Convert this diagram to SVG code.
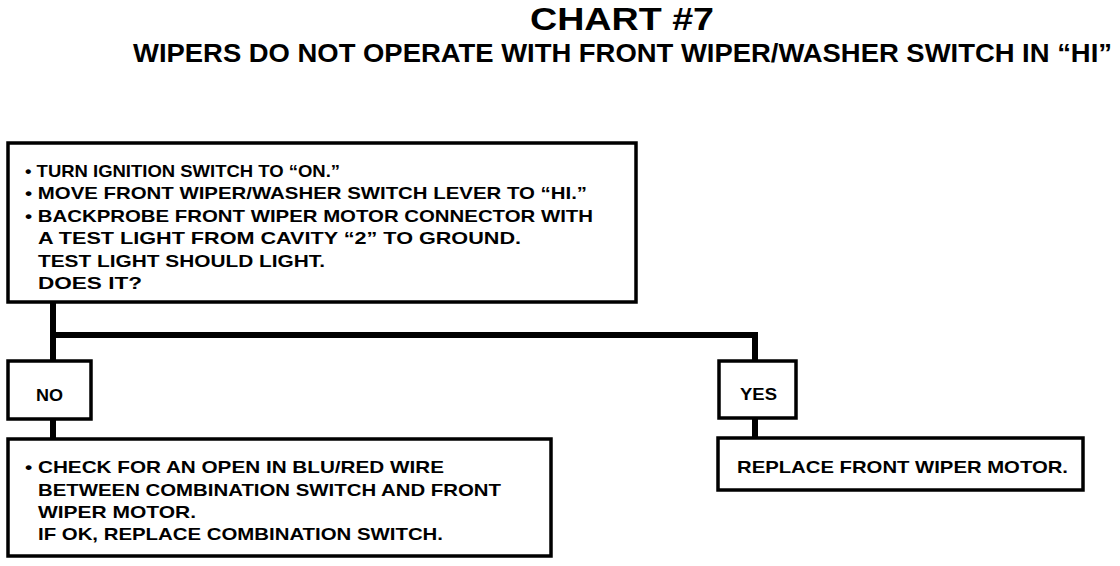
<svg xmlns="http://www.w3.org/2000/svg" width="1120" height="566" viewBox="0 0 1120 566">
<style>
.box{fill:#fff;stroke:#000;stroke-width:3.5}
.t{font-family:"Liberation Sans",Arial,sans-serif;font-weight:bold;font-size:17px;fill:#000}
.h{font-family:"Liberation Sans",Arial,sans-serif;font-weight:bold;fill:#000}
.c{fill:none;stroke:#000;stroke-width:6;stroke-linejoin:miter;stroke-linecap:butt}
</style>
<rect width="1120" height="566" fill="#fff"/>
<g id="title">
<text class="h" x="530" y="30" font-size="32" textLength="184" lengthAdjust="spacingAndGlyphs">CHART #7</text>
<text class="h" x="133" y="62" font-size="26" textLength="979" lengthAdjust="spacingAndGlyphs">WIPERS DO NOT OPERATE WITH FRONT WIPER/WASHER SWITCH IN “HI”</text>
</g>
<g id="connectors">
<path class="c" d="M53 302 V362"/>
<path class="c" d="M53 335 H755 V362"/>
<path class="c" d="M53 418 V440"/>
<path class="c" d="M755 418 V439"/>
</g>
<g id="start">
<rect class="box" x="8" y="143" width="628" height="159"/>
<text class="t" x="25" y="177" textLength="315" lengthAdjust="spacingAndGlyphs">• TURN IGNITION SWITCH TO “ON.”</text>
<text class="t" x="25" y="199" textLength="562" lengthAdjust="spacingAndGlyphs">• MOVE FRONT WIPER/WASHER SWITCH LEVER TO “HI.”</text>
<text class="t" x="25" y="222" textLength="568" lengthAdjust="spacingAndGlyphs">• BACKPROBE FRONT WIPER MOTOR CONNECTOR WITH</text>
<text class="t" x="38" y="244" textLength="483" lengthAdjust="spacingAndGlyphs">A TEST LIGHT FROM CAVITY “2” TO GROUND.</text>
<text class="t" x="38" y="267" textLength="287" lengthAdjust="spacingAndGlyphs">TEST LIGHT SHOULD LIGHT.</text>
<text class="t" x="38" y="289" textLength="104" lengthAdjust="spacingAndGlyphs">DOES IT?</text>
</g>
<g id="no">
<rect class="box" x="8" y="361" width="83" height="58"/>
<text class="t" x="36" y="401" textLength="27" lengthAdjust="spacingAndGlyphs">NO</text>
</g>
<g id="yes">
<rect class="box" x="719" y="361" width="77" height="57"/>
<text class="t" x="740" y="400" textLength="37" lengthAdjust="spacingAndGlyphs">YES</text>
</g>
<g id="check">
<rect class="box" x="8" y="439" width="543" height="117"/>
<text class="t" x="25" y="473" textLength="419" lengthAdjust="spacingAndGlyphs">• CHECK FOR AN OPEN IN BLU/RED WIRE</text>
<text class="t" x="38" y="496" textLength="463" lengthAdjust="spacingAndGlyphs">BETWEEN COMBINATION SWITCH AND FRONT</text>
<text class="t" x="38" y="518" textLength="158" lengthAdjust="spacingAndGlyphs">WIPER MOTOR.</text>
<text class="t" x="38" y="540" textLength="405" lengthAdjust="spacingAndGlyphs">IF OK, REPLACE COMBINATION SWITCH.</text>
</g>
<g id="replace">
<rect class="box" x="718" y="438" width="365" height="52"/>
<text class="t" x="737" y="473" textLength="331" lengthAdjust="spacingAndGlyphs">REPLACE FRONT WIPER MOTOR.</text>
</g>
</svg>
